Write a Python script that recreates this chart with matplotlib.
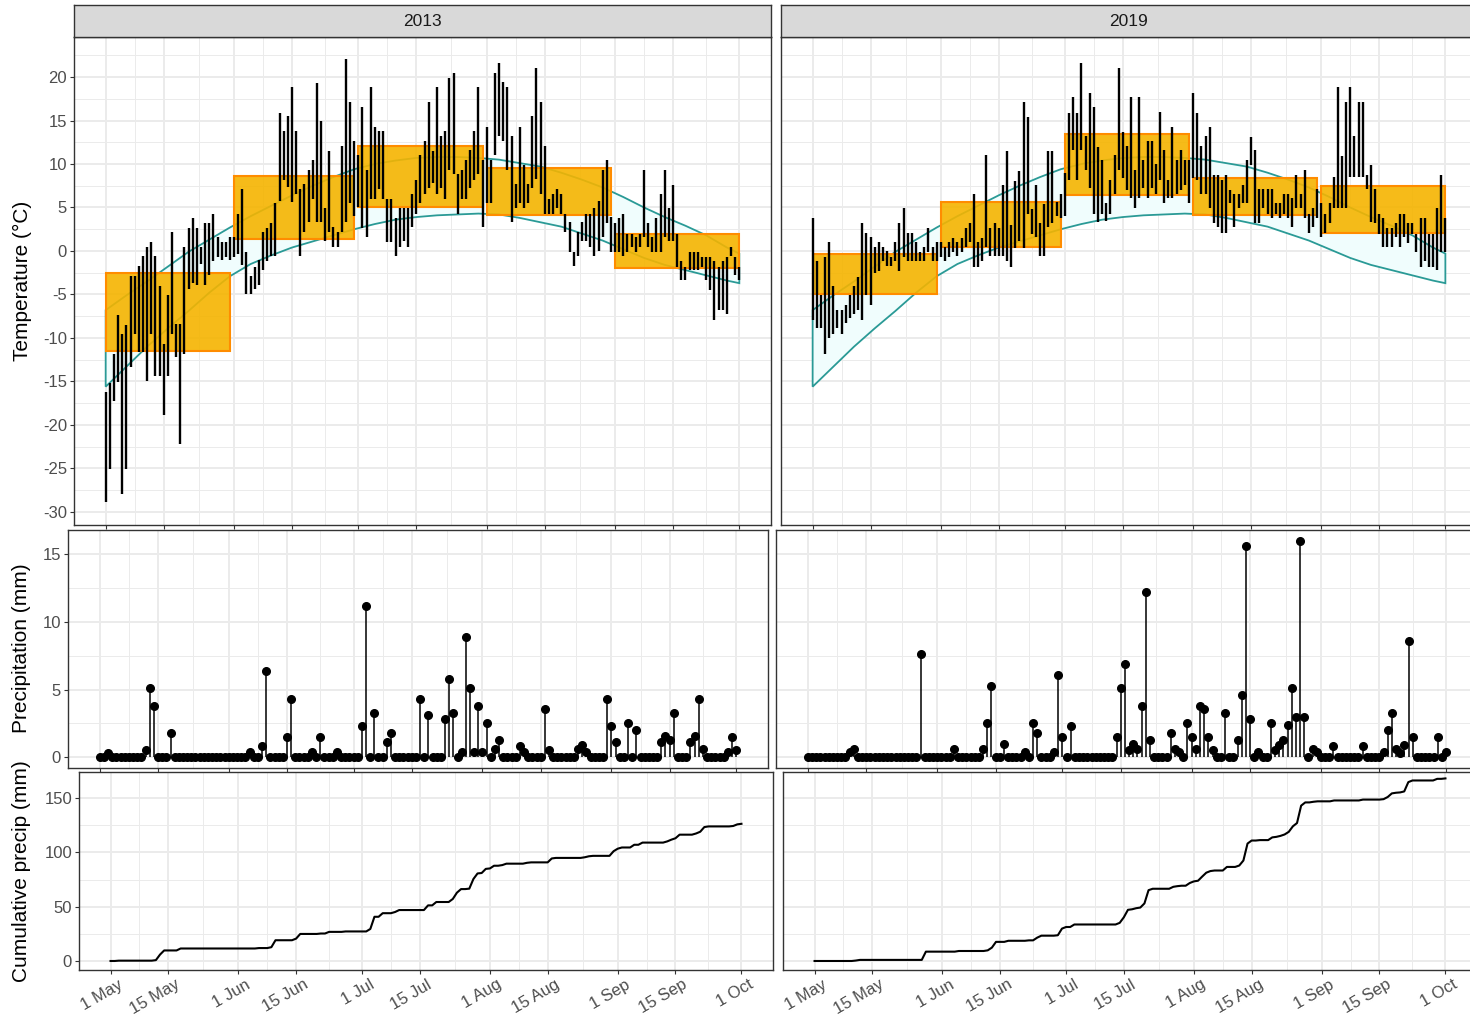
import matplotlib
matplotlib.use('Agg')
import matplotlib.pyplot as plt
import numpy as np
from matplotlib.patches import Rectangle
from matplotlib.colors import to_rgba
from matplotlib.transforms import ScaledTranslation

plt.rcParams['font.family'] = ['Liberation Sans', 'DejaVu Sans']
plt.rcParams['axes.unicode_minus'] = False

# day index: 0 = 1 May ... 153 = 1 Oct
tick_days = [0, 14, 31, 45, 61, 75, 92, 106, 123, 137, 153]
tick_labels = ['1 May', '15 May', '1 Jun', '15 Jun', '1 Jul', '15 Jul',
               '1 Aug', '15 Aug', '1 Sep', '15 Sep', '1 Oct']

# daily max / min temperature (°C)
tmax_2013 = [-16.2, -15.2, -11.8, -7.4, -9.5, -8.5, -2.9, -2.9, -1.7, -0.6,
             0.5, 1.0, -0.6, -4.0, -10.7, -5.1, 2.2, -8.4, -8.4, 0.5,
             2.7, 3.8, 2.7, 0.5, 3.2, 3.2, 4.3, 1.6, 1.0, 1.0,
             1.6, 1.6, 4.3, 7.1, -0.1, -2.9, -1.8, -1.0, 2.2, 2.7,
             3.2, 5.5, 15.9, 13.8, 15.5, 18.8, 13.8, 7.1, 7.7, 9.3,
             10.5, 19.3, 14.9, 4.9, 11.5, 2.8, 2.2, 12.1, 22.1, 17.1,
             12.7, 11.0, 16.6, 9.3, 18.8, 14.3, 13.8, 13.8, 6.0, 6.0,
             3.8, 4.9, 4.9, 4.9, 6.6, 8.2, 11.0, 12.7, 17.1, 11.5,
             18.8, 13.2, 13.8, 19.9, 20.5, 8.9, 9.3, 10.5, 11.6, 13.8,
             18.8, 10.5, 14.3, 10.5, 20.5, 21.6, 19.4, 18.8, 13.2, 7.7,
             14.3, 9.9, 7.7, 15.5, 21.0, 17.1, 12.1, 6.0, 6.6, 7.1,
             6.6, 4.3, 3.3, -0.1, 2.2, 3.3, 4.3, 4.3, 4.9, 5.7,
             9.3, 10.5, 3.9, 3.2, 3.8, 4.3, 2.0, 2.0, 1.6, 2.0,
             9.3, 3.2, 1.6, 3.8, 6.6, 9.3, 4.9, 7.6, 2.0, -1.2,
             -1.8, -0.1, -0.1, -0.1, -0.7, -0.7, -0.7, -1.2, -1.8, -1.2,
             -0.7, 0.5, -0.7, -1.8]
tmin_2013 = [-28.9, -25.1, -17.2, -15.1, -27.9, -25.1, -13.3, -9.5, -11.6, -11.6,
             -15.0, -9.5, -14.4, -14.4, -18.9, -14.4, -9.5, -12.2, -22.2, -11.8,
             -4.4, -3.7, -3.9, -1.5, -3.9, -2.8, -1.2, -0.7, -1.0, -0.7,
             -1.0, -0.7, -0.3, -1.6, -5.0, -5.0, -4.4, -3.9, -2.2, -1.2,
             -0.6, -0.6, 5.7, 8.2, 7.4, 5.6, 6.6, -0.6, 2.2, 3.3,
             6.0, 3.3, 3.3, 1.1, 2.2, 0.5, 0.5, 2.2, 3.3, 5.5,
             4.0, 5.0, 2.7, 1.6, 6.0, 6.0, 7.1, 6.0, 1.0, 1.0,
             -0.6, 0.5, 1.1, 0.5, 2.8, 4.3, 5.5, 6.6, 7.2, 7.8,
             6.6, 7.2, 6.0, 9.3, 8.9, 4.3, 6.0, 6.0, 7.2, 8.2,
             8.9, 2.8, 5.5, 5.5, 11.0, 13.2, 12.6, 9.3, 3.3, 4.9,
             5.5, 4.9, 5.5, 7.2, 8.3, 6.6, 4.3, 4.3, 4.3, 4.9,
             4.3, 2.2, -0.1, -1.7, -0.6, 1.1, 1.1, 0.5, -0.6, 0.0,
             1.6, 3.2, -0.1, -0.1, -0.1, -0.6, -0.1, 0.5, -0.1, 0.5,
             1.6, 0.5, -0.1, -0.1, -0.1, 1.6, 1.1, 1.1, -1.8, -3.3,
             -3.3, -2.2, -2.2, -2.2, -1.8, -3.3, -4.5, -7.9, -6.8, -6.8,
             -7.3, -0.6, -2.8, -3.3]

tmax_2019 = [3.8, -1.2, -5.1, -0.7, 1.0, -4.0, -6.8, -6.8, -6.2, -5.1,
             -4.0, -3.0, 3.2, 2.1, 1.6, 0.5, 1.0, 0.5, 0.0, -0.7,
             1.0, 3.2, 4.9, 2.1, 2.1, 1.0, -0.1, 0.5, 2.7, 0.5,
             1.0, 1.0, 0.5, 1.0, 1.5, 1.0, 1.5, 2.6, 3.2, 6.6,
             1.0, 1.5, 11.0, 2.6, 3.2, 2.6, 7.6, 11.5, 3.0, 8.1,
             9.2, 17.1, 15.4, 4.8, 7.6, 3.2, 5.4, 11.5, 11.5, 5.6,
             6.6, 9.0, 15.9, 17.7, 15.9, 21.6, 13.2, 18.2, 16.5, 12.0,
             10.5, 5.5, 8.2, 11.0, 21.0, 13.7, 12.1, 17.7, 9.3, 17.7,
             10.5, 12.7, 12.7, 10.0, 16.0, 11.6, 8.2, 14.3, 10.5, 11.6,
             10.5, 10.5, 18.2, 15.9, 12.1, 13.2, 14.3, 8.7, 8.7, 8.2,
             8.7, 7.0, 6.6, 6.6, 7.6, 10.5, 13.1, 11.6, 7.1, 7.1,
             7.1, 7.1, 5.5, 5.5, 6.6, 6.6, 6.1, 8.7, 6.6, 9.3,
             4.3, 4.9, 7.1, 5.5, 4.3, 5.5, 8.5, 18.8, 10.9, 17.1,
             18.8, 13.2, 17.1, 17.1, 8.7, 9.9, 7.1, 4.3, 3.8, 2.6,
             2.6, 3.2, 4.3, 4.3, 3.2, 3.2, 2.0, 3.8, 3.8, 2.0,
             2.0, 4.9, 8.7, 3.8]
tmin_2019 = [-7.9, -8.9, -8.9, -11.8, -10.0, -9.5, -8.9, -9.5, -8.3, -7.7,
             -7.2, -6.8, -7.9, -5.1, -6.2, -2.5, -2.3, -1.2, -1.7, -1.7,
             -1.2, -2.3, -0.7, -1.2, -1.2, -1.2, -1.2, -1.2, -0.1, -1.2,
             -1.2, -0.7, -1.2, -0.7, -0.1, -0.6, -0.1, 0.5, 1.0, -1.8,
             -1.8, -1.2, 0.5, -0.6, -0.6, -0.6, -0.6, -1.2, -1.8, 0.4,
             1.1, 0.4, 4.3, 2.0, 1.6, -0.6, -0.6, 2.8, 3.2, 4.0,
             3.8, 4.0, 8.2, 11.6, 8.2, 11.6, 9.3, 7.2, 4.3, 3.3,
             4.3, 3.4, 4.3, 6.5, 9.3, 8.4, 7.0, 6.1, 4.9, 6.1,
             7.2, 6.1, 7.2, 6.5, 8.2, 5.5, 6.1, 6.1, 6.6, 7.0,
             7.6, 5.5, 8.4, 8.2, 6.6, 6.6, 4.9, 3.2, 2.8, 2.1,
             2.1, 5.5, 2.8, 4.9, 5.5, 5.5, 9.9, 3.2, 3.2, 4.9,
             4.3, 3.8, 4.3, 3.8, 4.3, 3.8, 2.8, 4.9, 4.9, 3.8,
             2.1, 2.8, 3.8, 1.6, 2.1, 3.2, 4.9, 4.9, 4.9, 4.9,
             8.5, 8.5, 8.5, 8.5, 7.1, 3.3, 3.2, 2.0, 0.5, 0.5,
             0.5, 1.6, 0.5, 1.6, 0.9, 2.0, -0.1, -1.8, -1.2, -1.8,
             -1.8, -2.2, -0.1, -0.1]

# monthly mean min / max boxes (May..Sep)
month_start = [0, 31, 61, 92, 123]
month_end = [30, 60, 91, 122, 153]
box_lo_2013 = [-11.5, 1.4, 5.1, 4.1, -1.9]
box_hi_2013 = [-2.5, 8.6, 12.1, 9.5, 2.0]
box_lo_2019 = [-4.9, 0.5, 6.4, 4.1, 2.1]
box_hi_2019 = [-0.3, 5.6, 13.4, 8.4, 7.5]

# climate normal band
clim_day = [0, 5, 10, 15, 20, 25, 30, 35, 40, 45, 50, 55, 60, 65, 70, 75,
            80, 85, 90, 95, 100, 105, 110, 115, 120, 125, 130, 135, 140, 145, 150, 153]
clim_hi = [-6.8, -5.1, -3.5, -1.8, -0.1, 1.3, 2.7, 4.0, 5.2, 6.4, 7.5, 8.5, 9.4, 10.0, 10.4, 10.7,
           10.8, 10.8, 10.7, 10.5, 10.1, 9.7, 9.0, 8.2, 7.3, 6.2, 5.0, 3.9, 2.9, 1.8, 0.4, -0.3]
clim_lo = [-15.6, -13.3, -11.0, -8.9, -6.9, -4.8, -2.9, -1.5, -0.5, 0.4, 1.1, 1.8, 2.5, 3.1, 3.6, 3.9,
           4.1, 4.2, 4.3, 4.2, 3.8, 3.3, 2.8, 2.0, 1.2, 0.2, -0.8, -1.6, -2.2, -2.8, -3.4, -3.7]

# daily precipitation (mm)
precip_2013 = [0, 0, 0.3, 0, 0, 0, 0, 0, 0, 0,
               0, 0.5, 5.1, 3.8, 0, 0, 0, 1.8, 0, 0,
               0, 0, 0, 0, 0, 0, 0, 0, 0, 0,
               0, 0, 0, 0, 0, 0, 0.4, 0, 0, 0.8,
               6.4, 0, 0, 0, 0, 1.5, 4.3, 0, 0, 0,
               0, 0.4, 0, 1.5, 0, 0, 0, 0.4, 0, 0,
               0, 0, 0, 2.3, 11.2, 0, 3.3, 0, 0, 1.1,
               1.8, 0, 0, 0, 0, 0, 0, 4.3, 0, 3.1,
               0, 0, 0, 2.8, 5.8, 3.3, 0, 0.4, 8.9, 5.1,
               0.4, 3.8, 0.4, 2.5, 0, 0.6, 1.3, 0, 0, 0,
               0, 0.8, 0.4, 0, 0, 0, 0, 3.6, 0.5, 0,
               0, 0, 0, 0, 0, 0.6, 0.9, 0.4, 0, 0,
               0, 0, 4.3, 2.3, 1.1, 0, 0, 2.5, 0, 2.0,
               0, 0, 0, 0, 0, 1.1, 1.6, 1.3, 3.3, 0,
               0, 0, 1.1, 1.6, 4.3, 0.6, 0, 0, 0, 0,
               0, 0.4, 1.5, 0.5]
precip_2019 = [0, 0, 0, 0, 0, 0, 0, 0, 0, 0,
               0.4, 0.6, 0, 0, 0, 0, 0, 0, 0, 0,
               0, 0, 0, 0, 0, 0, 0, 7.6, 0, 0,
               0, 0, 0, 0, 0, 0.6, 0, 0, 0, 0,
               0, 0, 0.6, 2.5, 5.3, 0, 0, 1.0, 0, 0,
               0, 0, 0.4, 0, 2.5, 1.8, 0, 0, 0, 0.4,
               6.1, 1.5, 0, 2.3, 0, 0, 0, 0, 0, 0,
               0, 0, 0, 0, 1.5, 5.1, 6.9, 0.5, 1.0, 0.6,
               3.8, 12.2, 1.3, 0, 0, 0, 0, 1.8, 0.6, 0.4,
               0, 2.5, 1.5, 0.6, 3.8, 3.6, 1.5, 0.5, 0, 0,
               3.3, 0, 0, 1.3, 4.6, 15.6, 2.8, 0, 0.4, 0,
               0, 2.5, 0.5, 0.9, 1.3, 2.4, 5.1, 3.0, 16.0, 3.0,
               0, 0.6, 0.4, 0, 0, 0, 0.8, 0, 0, 0,
               0, 0, 0, 0.8, 0, 0, 0, 0, 0.4, 2.0,
               3.3, 0.6, 0.3, 0.9, 8.6, 1.5, 0, 0, 0, 0,
               0, 1.5, 0, 0.4]

W, H = 1470, 1017
fig = plt.figure(figsize=(W / 100, H / 100), dpi=100, facecolor='white')


def panel(x0, y0, x1, y1):
    return fig.add_axes([x0 / W, 1 - y1 / H, (x1 - x0) / W, (y1 - y0) / H])


minor_days = [(a + b) / 2 for a, b in zip(tick_days[:-1], tick_days[1:])]


def style(ax, yticks, ylim, show_y, show_x):
    ax.set_xlim(-7.65, 160.65)
    ax.set_xticks(tick_days)
    ax.set_xticks(minor_days, minor=True)
    ax.set_yticks(yticks)
    ax.set_yticks([(a + b) / 2 for a, b in zip(yticks[:-1], yticks[1:])] +
                  [yticks[-1] + (yticks[1] - yticks[0]) / 2], minor=True)
    ax.set_ylim(*ylim)
    ax.grid(which='major', color='#EBEBEB', lw=1.4)
    ax.grid(which='minor', color='#EBEBEB', lw=0.7)
    ax.set_axisbelow(True)
    ax.tick_params(which='minor', length=0)
    ax.tick_params(which='major', length=3, width=0.8, color='#333333',
                   labelsize=12, labelcolor='#4D4D4D', pad=2)
    for s in ax.spines.values():
        s.set_color('#333333')
        s.set_linewidth(1.0)
    if show_x:
        ax.set_xticklabels(tick_labels, rotation=30, ha='right', va='top',
                           rotation_mode='anchor')
        shift = ScaledTranslation(0.07, 0, fig.dpi_scale_trans)
        for lbl in ax.get_xticklabels():
            lbl.set_transform(lbl.get_transform() + shift)
    else:
        ax.set_xticklabels([])
    if show_y:
        ax.set_yticklabels([str(v) for v in yticks])
    else:
        ax.tick_params(axis='y', which='both', left=False, labelleft=False)


def strip(x0, x1, label):
    sa = panel(x0, 5, x1, 37)
    sa.set_facecolor('#D9D9D9')
    sa.set_xticks([])
    sa.set_yticks([])
    for s in sa.spines.values():
        s.set_color('#333333')
        s.set_linewidth(1.0)
    sa.text(0.5, 0.5, label, transform=sa.transAxes, ha='center', va='center',
            fontsize=12.5, color='#1A1A1A')


# temperature panels
temp_axes = [panel(74, 37, 771, 525), panel(781, 37, 1477, 525)]
strip(74, 771, '2013')
strip(781, 1477, '2019')
temp_sets = [(tmax_2013, tmin_2013, box_lo_2013, box_hi_2013),
             (tmax_2019, tmin_2019, box_lo_2019, box_hi_2019)]
for i, (ax, (tmax, tmin, blo, bhi)) in enumerate(zip(temp_axes, temp_sets)):
    days = np.arange(len(tmax))
    ax.fill(np.r_[clim_day, clim_day[::-1]], np.r_[clim_hi, clim_lo[::-1]],
            facecolor='#F0FDFD', edgecolor='#2A9A96', lw=1.3, zorder=2)
    for s, e, lo, hi in zip(month_start, month_end, blo, bhi):
        ax.add_patch(Rectangle((s, lo), e - s, hi - lo,
                               facecolor=to_rgba('#F5B400', 0.9),
                               edgecolor='#FF8C00', lw=1.5, zorder=3))
    ax.vlines(days, tmin, tmax, color='black', lw=1.7, zorder=4)
    style(ax, list(range(-30, 21, 5)), (-31.5, 24.6), i == 0, False)

# precipitation panels
prec_axes = [panel(68, 530, 768, 768), panel(776, 530, 1478, 768)]
for i, (ax, p) in enumerate(zip(prec_axes, [precip_2013, precip_2019])):
    days = np.arange(len(p))
    ax.vlines(days, 0, p, color='black', lw=1.1, zorder=3)
    ax.plot(days, p, 'o', color='black', ms=5.5, zorder=4)
    style(ax, [0, 5, 10, 15], (-0.8, 16.8), i == 0, False)

# cumulative precipitation panels
cum_axes = [panel(79, 772, 773, 970), panel(783, 772, 1477, 970)]
for i, (ax, p) in enumerate(zip(cum_axes, [precip_2013, precip_2019])):
    days = np.arange(len(p))
    ax.plot(days, np.cumsum(p), color='black', lw=1.5, zorder=3)
    style(ax, [0, 50, 100, 150], (-8.3, 174), i == 0, True)

fig.text(22 / W, 1 - 281 / H, 'Temperature (°C)', rotation=90, ha='center',
         va='center', fontsize=15)
fig.text(22 / W, 1 - 648 / H, 'Precipitation (mm)', rotation=90, ha='center',
         va='center', fontsize=15)
fig.text(22 / W, 1 - 871 / H, 'Cumulative precip (mm)', rotation=90, ha='center',
         va='center', fontsize=15)

fig.savefig('out.png', dpi=100, facecolor='white')
